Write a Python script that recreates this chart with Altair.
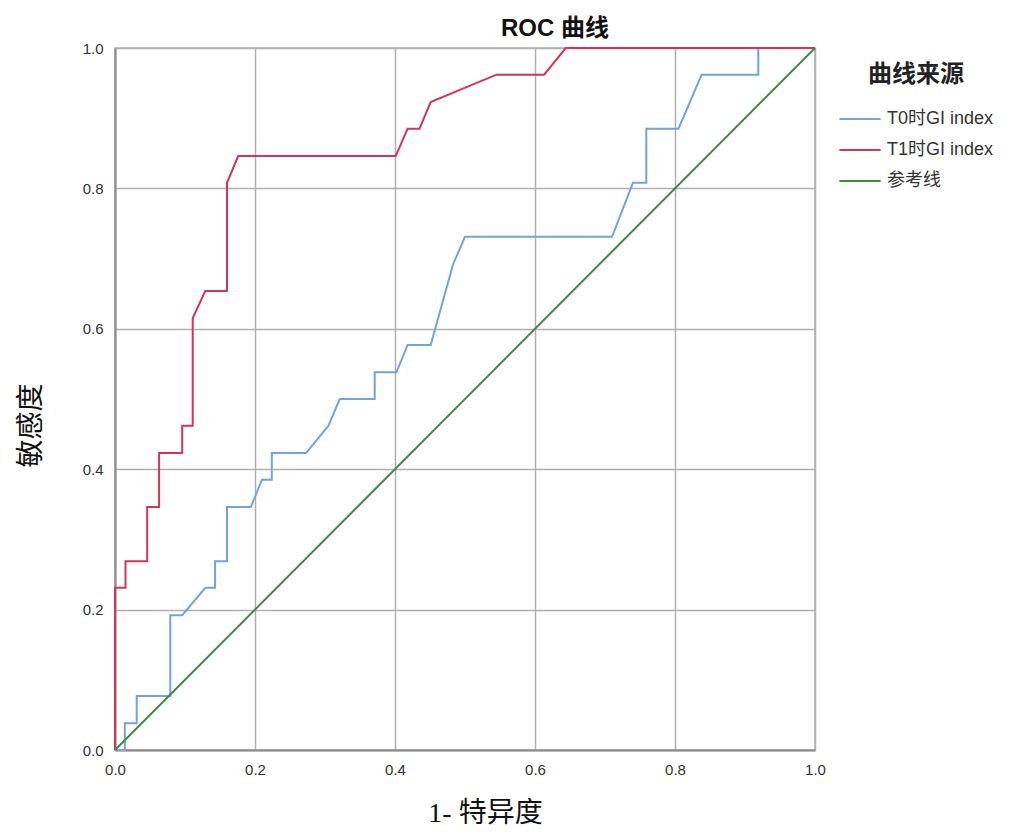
import altair as alt
import pandas as pd

series_names = ["T0时GI index", "T1时GI index", "参考线"]
series_colors = ["#74a3d8", "#d2345c", "#3b8b3b"]

t0_x = [0, 0.014, 0.014, 0.031, 0.031, 0.079, 0.079, 0.096, 0.129, 0.143, 0.143, 0.16,
        0.16, 0.194, 0.21, 0.224, 0.224, 0.273, 0.305, 0.321, 0.371, 0.371, 0.402, 0.418,
        0.451, 0.483, 0.5, 0.71, 0.74, 0.759, 0.759, 0.805, 0.838, 0.919, 0.919, 1.0]
t0_y = [0, 0, 0.038, 0.038, 0.077, 0.077, 0.192, 0.192, 0.231, 0.231, 0.269, 0.269,
        0.346, 0.346, 0.385, 0.385, 0.423, 0.423, 0.462, 0.5, 0.5, 0.538, 0.538, 0.577,
        0.577, 0.692, 0.731, 0.731, 0.808, 0.808, 0.885, 0.885, 0.962, 0.962, 1.0, 1.0]

t1_x = [0, 0, 0.015, 0.015, 0.046, 0.046, 0.063, 0.063, 0.096, 0.096, 0.111, 0.111,
        0.129, 0.16, 0.16, 0.176, 0.401, 0.418, 0.435, 0.451, 0.545, 0.613, 0.644, 1.0]
t1_y = [0, 0.231, 0.231, 0.269, 0.269, 0.346, 0.346, 0.423, 0.423, 0.462, 0.462, 0.615,
        0.654, 0.654, 0.808, 0.846, 0.846, 0.885, 0.885, 0.923, 0.962, 0.962, 1.0, 1.0]

ref_x = [0, 1.0]
ref_y = [0, 1.0]

rows = []
for name, xs, ys in zip(series_names, [t0_x, t1_x, ref_x], [t0_y, t1_y, ref_y]):
    for i, (a, b) in enumerate(zip(xs, ys)):
        rows.append({"series": name, "fpr": a, "tpr": b, "idx": i})
df = pd.DataFrame(rows)

ticks = [0, 0.2, 0.4, 0.6, 0.8, 1.0]

chart = alt.Chart(df).mark_line(strokeWidth=2).encode(
    x=alt.X("fpr:Q", title="1- 特异度",
            scale=alt.Scale(domain=[0, 1], nice=False),
            axis=alt.Axis(values=ticks, format=".1f", titleX=370, titleY=71,
                          titleBaseline="alphabetic", labelPadding=12)),
    y=alt.Y("tpr:Q", title="敏感度",
            scale=alt.Scale(domain=[0, 1], nice=False),
            axis=alt.Axis(values=ticks, format=".1f", titleX=-84, titleY=377,
                          titleBaseline="middle", labelPadding=12)),
    color=alt.Color("series:N", sort=series_names,
                    scale=alt.Scale(domain=series_names, range=series_colors),
                    legend=alt.Legend(title="曲线来源", orient="none", legendX=723, legendY=15,
                                      symbolType="stroke", symbolSize=1700, symbolStrokeWidth=2,
                                      titleAnchor="middle", titleFontSize=24,
                                      titleFont="Noto Sans CJK SC", titleFontWeight="bold",
                                      titleColor="#222", titlePadding=10,
                                      labelFontSize=18, labelFont="Liberation Sans, Noto Sans CJK SC",
                                      labelColor="#333", rowPadding=0, labelOffset=5)),
    order="idx:Q",
).properties(
    width=700, height=702,
    title=alt.TitleParams("ROC 曲线", fontSize=24, font="Liberation Sans, Noto Sans CJK SC",
                          fontWeight="bold", color="#111", anchor="middle", dx=90, offset=0),
    autosize=alt.AutoSizeParams(type="none"),
    padding={"left": 107, "top": 40, "right": 205, "bottom": 78},
).configure_view(
    stroke="#b0b0b0", strokeWidth=1.5
).configure_axis(
    grid=True, gridColor="#b0b0b0", gridWidth=1.5,
    domainColor="#8a8a8a", domainWidth=2,
    ticks=False, labelFlush=False,
    labelFont="Liberation Sans", labelFontSize=15, labelColor="#333",
    titleFont="Liberation Serif, Noto Sans CJK SC", titleFontSize=28,
    titleFontWeight="normal", titleColor="#111",
)

chart.save("out.html", embed_options={"renderer": "svg", "actions": False})
